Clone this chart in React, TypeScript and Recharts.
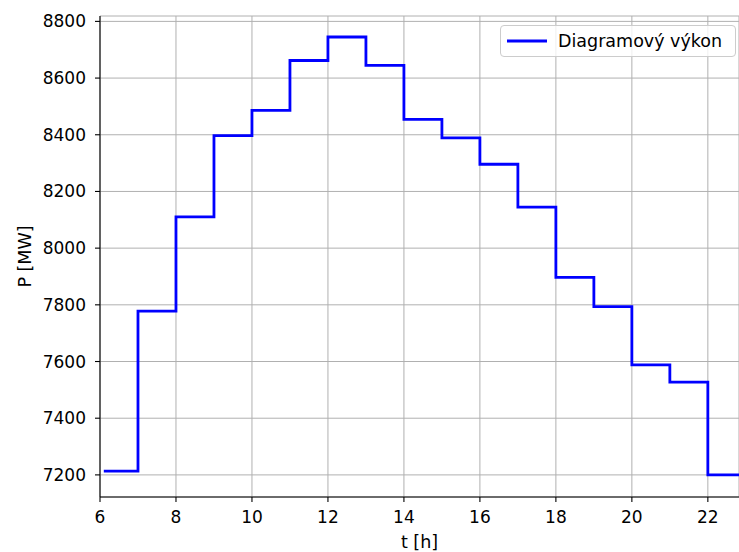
import { LineChart, Line, XAxis, YAxis, CartesianGrid, Legend } from 'recharts';

const hours = [6.1, 7, 8, 9, 10, 11, 12, 13, 14, 15, 16, 17, 18, 19, 20, 21, 22, 23];
const power = [7213, 7778, 8110, 8397, 8486, 8662, 8745, 8645, 8454, 8389, 8296, 8145, 7897, 7794, 7588, 7527, 7200, 7200];
const xTicks = [6, 8, 10, 12, 14, 16, 18, 20, 22];
const yTicks = [7200, 7400, 7600, 7800, 8000, 8200, 8400, 8600, 8800];
const seriesName = 'Diagramový výkon';

const data = hours.map((t, i) => ({ t, p: power[i] }));

const font = '"DejaVu Sans", sans-serif';
const tickStyle = { fontSize: 17, fill: '#000', fontFamily: font };

function LegendBox() {
    return (
        <div
            style={{
                display: 'flex',
                alignItems: 'center',
                width: 234,
                height: 30,
                border: '1px solid #cccccc',
                borderRadius: 4,
                background: 'rgba(255,255,255,0.8)',
                fontFamily: font,
                fontSize: 17.5,
                color: '#000',
                boxSizing: 'content-box',
            }}
        >
            <svg width={52} height={30} style={{ marginLeft: 5 }}>
                <line x1={1} x2={41} y1={15} y2={15} stroke="#0000ff" strokeWidth={2.8} />
            </svg>
            <span>{seriesName}</span>
        </div>
    );
}

export default function App() {
    return (
        <div style={{ position: 'absolute', left: 0, top: 0, background: '#fff' }}>
            <LineChart
                width={739}
                height={552}
                data={data}
                margin={{ top: 16, right: 0, bottom: 0, left: 0 }}
                style={{ fontFamily: font }}
            >
                <CartesianGrid stroke="#b0b0b0" strokeWidth={1} />
                <XAxis
                    dataKey="t"
                    type="number"
                    domain={[6, 22.82]}
                    ticks={xTicks}
                    interval={0}
                    allowDataOverflow
                    height={55}
                    tickSize={5}
                    tickMargin={9}
                    tick={tickStyle}
                    stroke="#000"
                    axisLine={{ stroke: '#000', strokeWidth: 1.1 }}
                    tickLine={{ stroke: '#000', strokeWidth: 1.1 }}
                    label={{
                        value: 't [h]',
                        position: 'insideBottom',
                        offset: 4,
                        style: { fontSize: 17.5, fill: '#000', fontFamily: font },
                    }}
                />
                <XAxis
                    xAxisId="top"
                    orientation="top"
                    type="number"
                    domain={[6, 22.82]}
                    height={0}
                    tick={false}
                    tickLine={false}
                    axisLine={{ stroke: '#000', strokeWidth: 1.1 }}
                />
                <YAxis
                    type="number"
                    domain={[7122, 8819]}
                    ticks={yTicks}
                    interval={0}
                    allowDataOverflow
                    width={100}
                    tickSize={5}
                    tickMargin={9}
                    tick={tickStyle}
                    axisLine={{ stroke: '#000', strokeWidth: 1.1 }}
                    tickLine={{ stroke: '#000', strokeWidth: 1.1 }}
                    label={({ viewBox }: any) => {
                        const cy = viewBox.y + viewBox.height / 2;
                        return (
                            <text
                                x={31}
                                y={cy}
                                transform={`rotate(-90 31 ${cy})`}
                                textAnchor="middle"
                                fontSize={17.5}
                                fontFamily={font}
                                fill="#000"
                            >
                                P [MW]
                            </text>
                        );
                    }}
                />
                <Legend
                    layout="horizontal"
                    verticalAlign="middle"
                    align="center"
                    content={() => <LegendBox />}
                    wrapperStyle={{ position: 'absolute', top: 25, left: 500, width: 236 }}
                />
                <Line
                    type="stepAfter"
                    dataKey="p"
                    name={seriesName}
                    stroke="#0000ff"
                    strokeWidth={2.8}
                    dot={false}
                    activeDot={false}
                    isAnimationActive={false}
                />
            </LineChart>
        </div>
    );
}
